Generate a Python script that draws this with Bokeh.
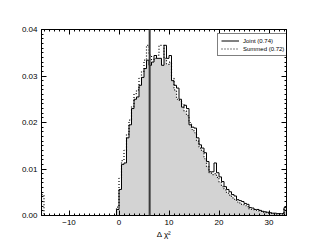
import numpy as np
from bokeh.plotting import figure
from bokeh.models import (LinearAxis, SingleIntervalTicker, PrintfTickFormatter,
                          CustomJSTickFormatter, Span, Legend, LegendItem, Range1d)
from bokeh.embed import file_html
from bokeh.resources import INLINE

# ---- data ----
bin_start = -0.5
bin_width = 0.5
joint = [0.0013, 0.0056, 0.011, 0.0113, 0.0167, 0.0195, 0.023, 0.025, 0.0255, 0.028,
         0.0297, 0.0316, 0.0334, 0.0323, 0.033, 0.0344, 0.0338, 0.0338, 0.0323, 0.0366,
         0.0338, 0.0344, 0.029, 0.028, 0.0274, 0.025, 0.0233, 0.0237, 0.023, 0.0195,
         0.019, 0.0188, 0.0167, 0.0152, 0.0145, 0.0135, 0.0116, 0.0094, 0.0094, 0.0113,
         0.0092, 0.0083, 0.0073, 0.0062, 0.0056, 0.0051, 0.0045, 0.0042, 0.0034, 0.0032,
         0.003, 0.0026, 0.0024, 0.0017, 0.0016, 0.0013, 0.0013, 0.0011, 0.0009, 0.0008,
         0.0007, 0.0006, 0.0005, 0.0005, 0.0004, 0.0004, 0.0004, 0.0017]
summed = [0.0018, 0.008, 0.0118, 0.014, 0.0175, 0.0205, 0.0235, 0.0262, 0.027, 0.0295,
          0.031, 0.0334, 0.0366, 0.0345, 0.0335, 0.0338, 0.0345, 0.0366, 0.0366, 0.0338,
          0.0325, 0.033, 0.0295, 0.027, 0.025, 0.0248, 0.024, 0.0225, 0.0215, 0.02,
          0.0185, 0.0178, 0.016, 0.0145, 0.0138, 0.0122, 0.0105, 0.0092, 0.0088, 0.009,
          0.0082, 0.0072, 0.0062, 0.0055, 0.0048, 0.0044, 0.0038, 0.0035, 0.0029, 0.0027,
          0.0024, 0.0021, 0.0019, 0.0014, 0.0013, 0.0011, 0.001, 0.0009, 0.0007, 0.0006,
          0.0005, 0.0005, 0.0004, 0.0004, 0.0003, 0.0003, 0.0003, 0.0014]
summed_low_edges = [-15.5, -15.0]
summed_low_value = 0.0045
vline_x = 6.13
x_range = (-15.5, 33.5)
y_range = (0.0, 0.04)
labels = ["Joint (0.74)", "Summed (0.72)"]

FONT = "Liberation Sans"

edges = bin_start + bin_width * np.arange(len(joint) + 1)
fill = np.minimum(joint, summed)

p = figure(width=303, height=241, output_backend="svg", toolbar_location=None,
           x_range=Range1d(*x_range), y_range=Range1d(*y_range),
           min_border_left=41, min_border_right=17, min_border_top=29, min_border_bottom=25,
           x_axis_label="Δ χ²")
p.background_fill_color = "white"
p.border_fill_color = "white"
p.outline_line_color = "black"
p.outline_line_width = 1
p.xgrid.visible = False
p.ygrid.visible = False

def outline(e, v):
    """histogram outline as explicit polyline (closed down to zero at both ends)"""
    xs, ys = [e[0]], [0.0]
    for i, val in enumerate(v):
        xs += [e[i], e[i + 1]]
        ys += [val, val]
    xs.append(e[-1]); ys.append(0.0)
    return xs, ys

def step_xy(e, v):
    xs = [e[0]] + list(e)
    ys = [0] + list(v) + [0]
    return xs, ys

# gray fill as a single stepped area
fx, fy = step_xy(edges, fill)
p.varea_step(x=fx, y1=[0] * len(fx), y2=fy, step_mode="after",
             fill_color="#d3d3d3")

jx, jy = outline(edges, joint)
sx, sy = outline(edges, summed)
r_joint = p.line(jx, jy, line_color="black", line_width=1)
r_sum = p.line(sx, sy, line_color="black", line_width=1.2, line_dash="1 2")
lx, ly = outline(summed_low_edges, [summed_low_value])
p.line(lx, ly, line_color="black", line_width=1.2, line_dash="1 2")

p.add_layout(Span(location=vline_x, dimension="height", line_color="#3a3a3a", line_width=2))

def style(ax, labels_on):
    ax.axis_line_color = "black"
    ax.major_tick_line_color = "black"
    ax.minor_tick_line_color = "black"
    ax.major_tick_in = 5
    ax.major_tick_out = 0
    ax.minor_tick_in = 2
    ax.minor_tick_out = 0
    ax.major_label_text_font = FONT
    ax.major_label_text_color = "black"
    ax.major_label_text_font_size = "8px"
    ax.axis_label_text_font = FONT
    ax.axis_label_text_font_style = "normal"
    ax.axis_label_text_font_size = "8px"
    ax.axis_label_text_color = "black"
    if labels_on:
        ax.major_label_standoff = 4
    else:
        ax.formatter = CustomJSTickFormatter(code="return ''")
        ax.major_label_standoff = 0

p.xaxis.ticker = SingleIntervalTicker(interval=10, num_minor_ticks=10)
p.yaxis.ticker = SingleIntervalTicker(interval=0.01, num_minor_ticks=10)
p.yaxis.formatter = PrintfTickFormatter(format="%.2f")
style(p.xaxis[0], True)
style(p.yaxis[0], True)
p.xaxis.axis_label_standoff = 2

top = LinearAxis(ticker=SingleIntervalTicker(interval=10, num_minor_ticks=10))
right = LinearAxis(ticker=SingleIntervalTicker(interval=0.01, num_minor_ticks=10))
style(top, False)
style(right, False)
p.add_layout(top, "above")
p.add_layout(right, "right")

legend = Legend(items=[LegendItem(label=labels[0], renderers=[r_joint]),
                       LegendItem(label=labels[1], renderers=[r_sum])],
                location=(176, 159))
legend.label_text_font = FONT
legend.label_text_font_size = "6px"
legend.label_text_color = "black"
legend.label_height = 7
legend.glyph_height = 7
legend.glyph_width = 18
legend.label_standoff = 4
legend.spacing = 1
legend.padding = 3
legend.margin = 0
legend.border_line_color = "black"
legend.border_line_width = 1
legend.background_fill_alpha = 1
p.add_layout(legend)

open("out.html", "w").write(file_html(p, INLINE))
